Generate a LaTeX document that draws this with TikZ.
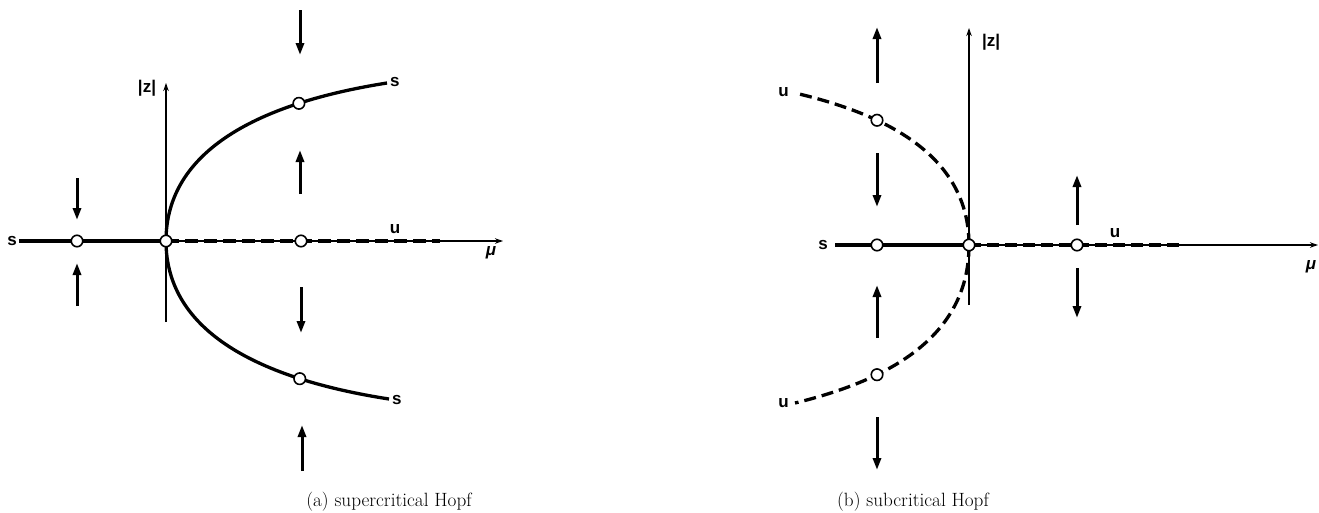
\documentclass[tikz,border=0pt]{standalone}
\usepackage{fontspec}
\newfontfamily\lab{Liberation Sans}
\usetikzlibrary{arrows.meta}
\begin{document}
\begin{tikzpicture}[x=1pt,y=-1pt,
  axis/.style={line width=1.1pt, -{Stealth[length=8pt,width=5.5pt]}},
  stable/.style={line width=3.3pt},
  unstableA/.style={line width=3.3pt, dash pattern=on 13pt off 6pt},
  unstableB/.style={line width=3.3pt, dash pattern=on 12pt off 6pt},
  flow/.style={line width=3pt, -{Triangle[length=12pt,width=8pt]}},
  eq/.style={circle, draw, solid, fill=white, line width=1.6pt, minimum size=11.5pt, inner sep=0pt},
  lbl/.style={font=\lab\bfseries\fontsize{17}{19}\selectfont, inner sep=0pt},
  captext/.style={font=\fontsize{19.2}{23}\selectfont, inner sep=0pt}]
\useasboundingbox (0,0) rectangle (1319,512);

% ---------------- panel (a): supercritical ----------------
\coordinate (aO) at (166,241);
\coordinate (aXs) at (19,241);
\coordinate (aXd) at (440,241);
\coordinate (aXe) at (503,241);
\coordinate (aYb) at (166,322);
\coordinate (aYt) at (166,83);
\coordinate (aUe) at (387,83);
\coordinate (aLe) at (389,399);

\draw[axis] (aO) -- (aXe);
\draw[axis] (aYb) -- (aYt);
\draw[stable] (aXs) -- (aO);
\draw[unstableA] (aO) -- (aXd);
\draw[stable] (aO) .. controls (166,150) and (260,103) .. (aUe)
  node[pos=0.75, eq] (ac1) {};
\draw[stable] (aO) .. controls (166,332) and (260,379) .. (aLe)
  node[pos=0.75, eq] (ac2) {};
\node[eq] (aE1) at (77,241) {};
\node[eq] (aE0) at (aO) {};
\node[eq] (aE2) at (301,241) {};

\node[lbl, anchor=east] (as0) at (17,241) {s};
\node[lbl, anchor=west] (as1) at (390,82) {s};
\node[lbl, anchor=west] (as2) at (392,400) {s};
\node[lbl] (au) at (395,229) {u};
\node[lbl] (az) at (147,88) {|z|};
\node[lbl] (amu) at (491,253) {\itshape μ};

\draw[flow] (77,178) -- (77,220);
\draw[flow] (77,306) -- (77,263);
\draw[flow] (300,10) -- (300,55);
\draw[flow] (300,194) -- (300,150);
\draw[flow] (301,287) -- (301,333);
\draw[flow] (302,471) -- (302,425);

\node[captext] (capa) at (389,502) {(a) supercritical Hopf};

% ---------------- panel (b): subcritical ----------------
\coordinate (bO) at (969,245);
\coordinate (bXs) at (835,245);
\coordinate (bXd) at (1182,245);
\coordinate (bXe) at (1318,245);
\coordinate (bYb) at (969,305);
\coordinate (bYt) at (969,28);
\coordinate (bUe) at (795,93);
\coordinate (bLe) at (795,403);

\draw[axis] (bO) -- (bXe);
\draw[axis] (bYb) -- (bYt);
\draw[stable] (bXs) -- (bO);
\draw[unstableB] (bO) -- (bXd);
\draw[unstableB] (bO) .. controls (969,155) and (885,114) .. (bUe)
  node[pos=0.68, eq] (bc1) {};
\draw[unstableB] (bO) .. controls (969,339) and (885,381) .. (bLe)
  node[pos=0.68, eq] (bc2) {};
\node[eq] (bE1) at (877,245) {};
\node[eq] (bE0) at (bO) {};
\node[eq] (bE2) at (1077,245) {};

\node[lbl, anchor=east] (bs) at (828,245) {s};
\node[lbl, anchor=east] (bu1) at (789,92) {u};
\node[lbl, anchor=east] (bu2) at (789,403) {u};
\node[lbl] (bu) at (1115,233) {u};
\node[lbl] (bz) at (991,42) {|z|};
\node[lbl] (bmu) at (1311,267) {\itshape μ};

\draw[flow] (877,83) -- (877,27);
\draw[flow] (877,153) -- (877,207);
\draw[flow] (877,338) -- (877,285);
\draw[flow] (877,417) -- (877,470);
\draw[flow] (1077,225) -- (1077,175);
\draw[flow] (1077,268) -- (1077,318);

\node[captext] (capb) at (913,502) {(b) subcritical Hopf};
\end{tikzpicture}
\end{document}
